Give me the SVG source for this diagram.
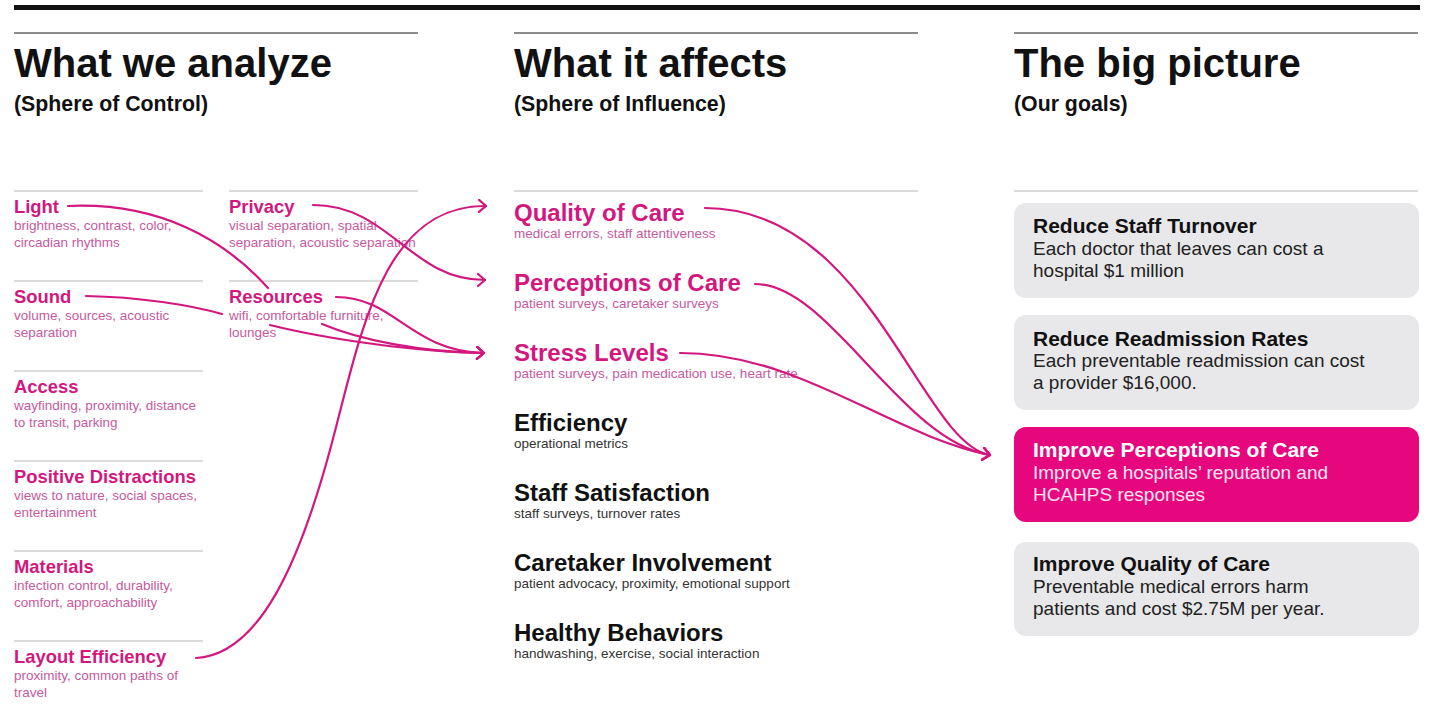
<svg xmlns="http://www.w3.org/2000/svg" width="1440" height="718" viewBox="0 0 1440 718">
<defs>
<style>
text{font-family:"Liberation Sans",Arial,sans-serif}
.h1{font-size:40px;font-weight:bold;fill:#111}
.h2{font-size:21.3px;font-weight:bold;fill:#111}
.rule{stroke:#666;stroke-width:1.5}
.sep{stroke:#cfcfcf;stroke-width:1.5}
.lt{font-size:18.4px;font-weight:bold;fill:#d2177f}
.ld{font-size:13.5px;fill:#c65a9f}
.mt{font-size:24px;font-weight:bold}
.pk{fill:#d2177f}
.bk{fill:#111}
.md{font-size:13.5px}
.pkd{fill:#c65a9f}
.bkd{fill:#333}
.box{fill:#e8e8ea}
.boxp{fill:#e6067e}
.bt{font-size:21px;font-weight:bold;fill:#111}
.bb{font-size:19px;fill:#222}
.conn{fill:none;stroke:#d2177f;stroke-width:2.2;stroke-linecap:round}
</style>
<marker id="arr" markerUnits="userSpaceOnUse" markerWidth="14" markerHeight="16" refX="9" refY="7" orient="auto">
<path d="M2,1 L9,7 L2,13" fill="none" stroke="#d2177f" stroke-width="2.2" stroke-linecap="round" stroke-linejoin="round"/>
</marker>
</defs>
<rect width="1440" height="718" fill="#fff"/>
<rect x="14" y="5" width="1406" height="5" fill="#111"/>

<g id="col-analyze">
<line class="rule" x1="14" y1="33" x2="418" y2="33"/>
<text class="h1" x="14" y="77">What we analyze</text>
<text class="h2" x="14" y="111">(Sphere of Control)</text>
</g>
<g id="col-affects">
<line class="rule" x1="514" y1="33" x2="918" y2="33"/>
<text class="h1" x="514" y="77">What it affects</text>
<text class="h2" x="514" y="111">(Sphere of Influence)</text>
<line class="sep" x1="514" y1="191" x2="918" y2="191"/>
</g>
<g id="col-goals">
<line class="rule" x1="1014" y1="33" x2="1418" y2="33"/>
<text class="h1" x="1014" y="77">The big picture</text>
<text class="h2" x="1014" y="111">(Our goals)</text>
<line class="sep" x1="1014" y1="191" x2="1418" y2="191"/>
</g>

<g id="light"><line class="sep" x1="14" y1="191" x2="203" y2="191"/><text class="lt" x="14" y="213">Light</text><text class="ld" x="14" y="230">brightness, contrast, color,</text><text class="ld" x="14" y="247">circadian rhythms</text></g>
<g id="sound"><line class="sep" x1="14" y1="281" x2="203" y2="281"/><text class="lt" x="14" y="303">Sound</text><text class="ld" x="14" y="320">volume, sources, acoustic</text><text class="ld" x="14" y="337">separation</text></g>
<g id="access"><line class="sep" x1="14" y1="371" x2="203" y2="371"/><text class="lt" x="14" y="393">Access</text><text class="ld" x="14" y="410">wayfinding, proximity, distance</text><text class="ld" x="14" y="427">to transit, parking</text></g>
<g id="distractions"><line class="sep" x1="14" y1="461" x2="203" y2="461"/><text class="lt" x="14" y="483">Positive Distractions</text><text class="ld" x="14" y="500">views to nature, social spaces,</text><text class="ld" x="14" y="517">entertainment</text></g>
<g id="materials"><line class="sep" x1="14" y1="551" x2="203" y2="551"/><text class="lt" x="14" y="573">Materials</text><text class="ld" x="14" y="590">infection control, durability,</text><text class="ld" x="14" y="607">comfort, approachability</text></g>
<g id="layout"><line class="sep" x1="14" y1="641" x2="203" y2="641"/><text class="lt" x="14" y="663">Layout Efficiency</text><text class="ld" x="14" y="680">proximity, common paths of</text><text class="ld" x="14" y="697">travel</text></g>
<g id="privacy"><line class="sep" x1="229" y1="191" x2="418" y2="191"/><text class="lt" x="229" y="213">Privacy</text><text class="ld" x="229" y="230">visual separation, spatial</text><text class="ld" x="229" y="247">separation, acoustic separation</text></g>
<g id="resources"><line class="sep" x1="229" y1="281" x2="418" y2="281"/><text class="lt" x="229" y="303">Resources</text><text class="ld" x="229" y="320">wifi, comfortable furniture,</text><text class="ld" x="229" y="337">lounges</text></g>

<g id="quality"><text class="mt pk" x="514" y="221">Quality of Care</text><text class="md pkd" x="514" y="238">medical errors, staff attentiveness</text></g>
<g id="perceptions"><text class="mt pk" x="514" y="291">Perceptions of Care</text><text class="md pkd" x="514" y="308">patient surveys, caretaker surveys</text></g>
<g id="stress"><text class="mt pk" x="514" y="361">Stress Levels</text><text class="md pkd" x="514" y="378">patient surveys, pain medication use, heart rate</text></g>
<g id="efficiency"><text class="mt bk" x="514" y="431">Efficiency</text><text class="md bkd" x="514" y="448">operational metrics</text></g>
<g id="staff"><text class="mt bk" x="514" y="501">Staff Satisfaction</text><text class="md bkd" x="514" y="518">staff surveys, turnover rates</text></g>
<g id="caretaker"><text class="mt bk" x="514" y="571">Caretaker Involvement</text><text class="md bkd" x="514" y="588">patient advocacy, proximity, emotional support</text></g>
<g id="healthy"><text class="mt bk" x="514" y="641">Healthy Behaviors</text><text class="md bkd" x="514" y="658">handwashing, exercise, social interaction</text></g>

<g id="goal-turnover"><rect class="box" x="1014" y="203" width="405" height="95" rx="12"/><text class="bt" x="1033" y="233">Reduce Staff Turnover</text><text class="bb" x="1033" y="255">Each doctor that leaves can cost a</text><text class="bb" x="1033" y="277">hospital $1 million</text></g>
<g id="goal-readmission"><rect class="box" x="1014" y="315" width="405" height="95" rx="12"/><text class="bt" x="1033" y="346">Reduce Readmission Rates</text><text class="bb" x="1033" y="367">Each preventable readmission can cost</text><text class="bb" x="1033" y="389">a provider $16,000.</text></g>
<g id="goal-perceptions"><rect class="boxp" x="1014" y="427" width="405" height="95" rx="12"/><text class="bt" x="1033" y="457" style="fill:#fff">Improve Perceptions of Care</text><text class="bb" x="1033" y="479" style="fill:#ffe3f1">Improve a hospitals’ reputation and</text><text class="bb" x="1033" y="501" style="fill:#ffe3f1">HCAHPS responses</text></g>
<g id="goal-quality"><rect class="box" x="1014" y="542" width="405" height="94" rx="12"/><text class="bt" x="1033" y="571">Improve Quality of Care</text><text class="bb" x="1033" y="593">Preventable medical errors harm</text><text class="bb" x="1033" y="615">patients and cost $2.75M per year.</text></g>

<g id="connectors">
<path class="conn" d="M68,206 C160,202 225,240 268,288 M322,324 C360,340 420,352 484,353" marker-end="url(#arr)"/>
<path class="conn" d="M86,296 C140,297 190,305 222,314 M270,325 C330,340 420,352 484,353" marker-end="url(#arr)"/>
<path class="conn" d="M336,297 C395,297 410,351 484,353" marker-end="url(#arr)"/>
<path class="conn" d="M313,205 C390,205 410,280 485,280" marker-end="url(#arr)"/>
<path class="conn" d="M196,658 C260,655 300,560 330,450 C360,340 380,205 486,206" marker-end="url(#arr)"/>
<path class="conn" d="M705,208 C870,208 920,443 990,455" marker-end="url(#arr)"/>
<path class="conn" d="M755,284 C830,284 900,440 990,455" marker-end="url(#arr)"/>
<path class="conn" d="M680,353 C800,353 890,435 990,455" marker-end="url(#arr)"/>
</g>
</svg>
